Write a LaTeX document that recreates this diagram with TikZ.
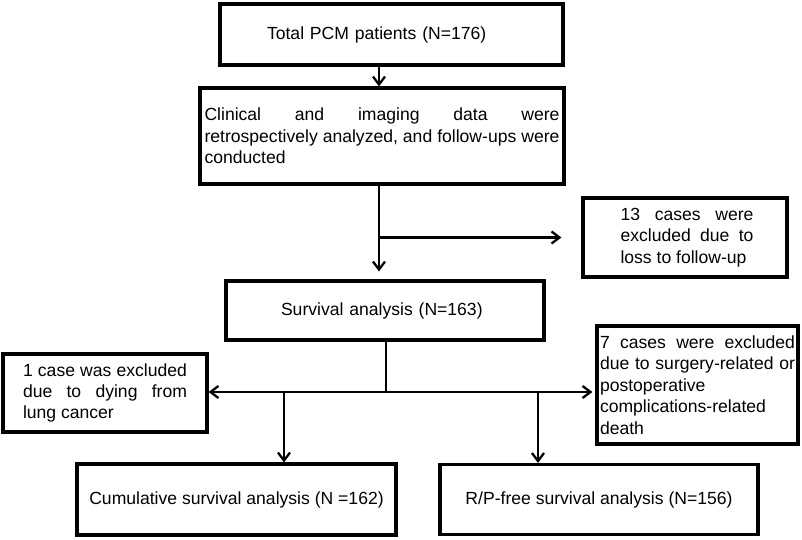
\documentclass[tikz,border=0pt]{standalone}
\usepackage{fontspec}
\setmainfont{Liberation Sans}
\usetikzlibrary{arrows.meta}

\begin{document}
\begin{tikzpicture}[x=0.02cm,y=-0.02cm,
    box/.style={draw=black,line width=1.8pt,inner sep=0pt,align=center,
        font=\fontsize{10}{12.2}\selectfont},
    note/.style={box,align=justify},
    arr/.style={line width=1.3pt,-{Straight Barb[length=0.16cm,width=0.24cm]}},
    link/.style={line width=1.3pt}]
    \useasboundingbox (0,0) rectangle (802,540);
    \coordinate (spine) at (379,0);
    \coordinate (fork) at (386,392);
    \coordinate (cumtap) at (284,392);
    \coordinate (rptap) at (538,392);

    \node[box,align=left,text width=4.98cm,inner xsep=0.94cm,minimum height=1.22cm] (total) at (391.5,34.5)
        {Total PCM patients (N=176)};
    \node[note,text width=7.1cm,inner xsep=0.09cm,minimum height=1.92cm] (data) at (382,136)
        {Clinical and imaging data were\linebreak retrospectively analyzed, and follow-ups were\linebreak conducted};
    \node[note,text width=2.74cm,inner xsep=0.67cm,minimum height=1.58cm] (lost) at (685,237.5)
        {\hspace*{0.08cm}13 cases were\linebreak \hspace*{0.08cm}excluded due to\linebreak \hspace*{0.08cm}loss to follow-up};
    \node[box,align=left,text width=4.16cm,inner xsep=1.1cm,minimum height=1.18cm] (surv) at (385,310.5)
        {Survival analysis (N=163)};
    \node[note,text width=3.28cm,inner xsep=0.4cm,minimum height=1.56cm] (lung) at (105,393)
        {1 case was excluded\linebreak due to dying from\linebreak lung cancer};
    \node[note,text width=3.9cm,inner xsep=0.06cm,minimum height=2.36cm] (surg) at (697.5,385)
        {7 cases were excluded\linebreak due to surgery-related or\linebreak postoperative\\ complications-related\\ death};
    \node[box,minimum width=6.38cm,minimum height=1.42cm] (cum) at (236.5,499.5)
        {Cumulative survival analysis (N =162)};
    \node[box,minimum width=6.36cm,minimum height=1.40cm] (rp) at (599,499.5)
        {R/P-free survival analysis (N=156)};

    \draw[arr] (total.south -| spine) -- (data.north -| spine);
    \draw[arr] (data.south -| spine) -- ([yshift=0.16cm]surv.north -| spine);
    \draw[arr] (spine |- lost) -- ([xshift=-0.4cm]lost.west);
    \draw[link] (surv.south -| fork) -- (fork);
    \draw[arr] (fork) -- (lung.east |- fork);
    \draw[arr,shorten >=0.06cm] (fork) -- (surg.west |- fork);
    \draw[arr] (cumtap) -- (cumtap |- cum.north);
    \draw[arr] (rptap) -- (rptap |- rp.north);
\end{tikzpicture}
\end{document}
